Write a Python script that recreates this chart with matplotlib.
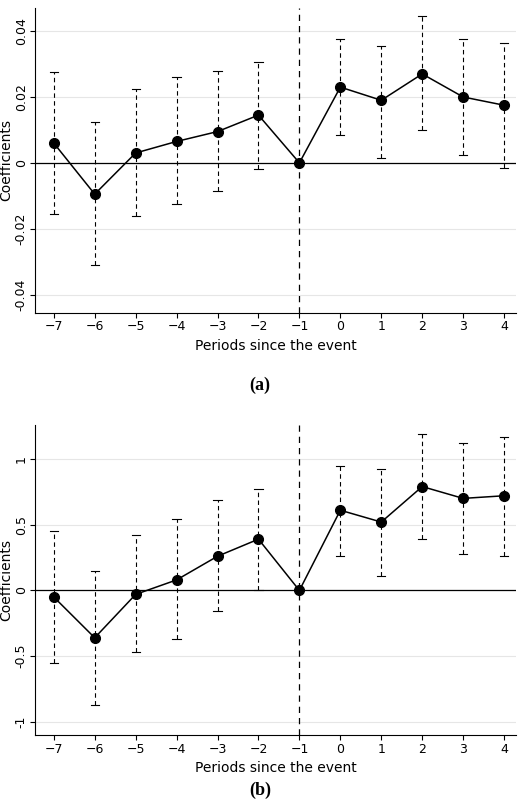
import matplotlib.pyplot as plt

periods = [-7, -6, -5, -4, -3, -2, -1, 0, 1, 2, 3, 4]

coef_a = [0.006, -0.0095, 0.003, 0.0065, 0.0095, 0.0145, 0.0, 0.023, 0.019, 0.027, 0.020, 0.0175]
hi_a = [0.0275, 0.0125, 0.0225, 0.026, 0.028, 0.0305, 0.0, 0.0375, 0.0355, 0.0445, 0.0375, 0.0365]
lo_a = [-0.0155, -0.031, -0.016, -0.0125, -0.0085, -0.002, 0.0, 0.0085, 0.0015, 0.010, 0.0025, -0.0015]

coef_b = [-0.05, -0.36, -0.03, 0.08, 0.26, 0.39, 0.0, 0.61, 0.52, 0.79, 0.70, 0.72]
hi_b = [0.45, 0.15, 0.42, 0.54, 0.69, 0.77, 0.0, 0.95, 0.92, 1.19, 1.12, 1.17]
lo_b = [-0.55, -0.87, -0.47, -0.37, -0.16, 0.0, 0.0, 0.26, 0.11, 0.39, 0.28, 0.26]


def draw(ax, coef, lo, hi, yticks, ylabels, ylim):
    for y in yticks:
        ax.axhline(y, color="#e6e6e6", lw=0.8, zorder=0)
    ax.axhline(0, color="black", lw=0.9, zorder=1)
    ax.axvline(-1, color="black", lw=0.9, ls=(0, (5, 4)), zorder=1)
    for x, l, h in zip(periods, lo, hi):
        if l == h:
            continue
        ax.plot([x, x], [l, h], color="black", lw=0.8, ls=(0, (4, 3)))
        ax.plot([x - 0.1, x + 0.1], [h, h], color="black", lw=0.8)
        ax.plot([x - 0.1, x + 0.1], [l, l], color="black", lw=0.8)
    ax.plot(periods, coef, color="black", lw=1.1, marker="o", ms=7, zorder=3)
    ax.set_xlim(-7.45, 4.3)
    ax.set_ylim(*ylim)
    ax.set_xticks(periods)
    ax.set_yticks(yticks)
    ax.set_yticklabels(ylabels, rotation=90, va="center")
    ax.spines[["top", "right"]].set_visible(False)
    ax.set_xlabel("Periods since the event", fontsize=10)
    ax.set_ylabel("Coefficients", fontsize=10, labelpad=1)
    ax.tick_params(labelsize=9, pad=2)


fig = plt.figure(figsize=(5.2, 8.06), dpi=100)
ax1 = fig.add_axes([0.068, 0.612, 0.925, 0.378])
ax2 = fig.add_axes([0.068, 0.088, 0.925, 0.385])

draw(ax1, coef_a, lo_a, hi_a, [-0.04, -0.02, 0, 0.02, 0.04],
     ["-0.04", "-0.02", "0", "0.02", "0.04"], (-0.0455, 0.047))
draw(ax2, coef_b, lo_b, hi_b, [-1, -0.5, 0, 0.5, 1],
     ["-1", "-0.5", "0", "0.5", "1"], (-1.1, 1.26))

fig.text(0.5, 0.522, "(a)", ha="center", va="center", fontsize=13, fontweight="bold", family="Liberation Serif")
fig.text(0.5, 0.02, "(b)", ha="center", va="center", fontsize=13, fontweight="bold", family="Liberation Serif")

fig.savefig("out.png", dpi=100)
